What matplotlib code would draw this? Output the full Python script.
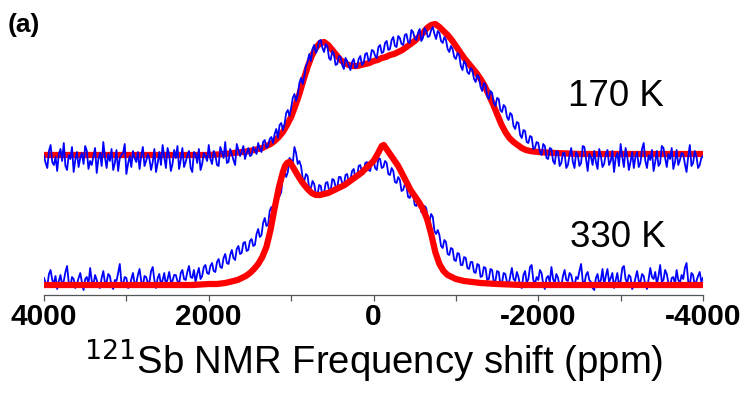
import numpy as np
import matplotlib
matplotlib.use('Agg')
import matplotlib.pyplot as plt
from matplotlib.ticker import MultipleLocator

# 170 K 实测谱（蓝），4000 -> -4000 ppm，间隔 20 ppm
exp_170 = [
    136, 129, 124, 141, 147, 130, 127, 135, 121, 138, 143, 131, 149, 126, 122, 137, 133, 145, 120, 132,
    140, 125, 134, 139, 128, 146, 141, 123, 131, 127, 136, 144, 119, 133, 139, 126, 150, 135, 124, 138,
    131, 143, 122, 129, 142, 121, 134, 137, 139, 148, 118, 128, 136, 125, 141, 134, 130, 140, 123, 136,
    145, 126, 131, 138, 133, 122, 130, 143, 120, 129, 140, 127, 147, 135, 124, 144, 137, 121, 128, 142,
    134, 146, 123, 132, 144, 125, 130, 137, 141, 124, 120, 140, 138, 129, 143, 122, 128, 139, 136, 131,
    147, 133, 128, 141, 137, 127, 126, 145, 140, 134, 150, 129, 130, 143, 138, 132, 127, 148, 142, 136,
    140, 146, 133, 139, 144, 136, 137, 145, 142, 138, 149, 143, 140, 150, 152, 144, 146, 153, 155, 149,
    158, 163, 154, 167, 169, 162, 168, 179, 182, 176, 184, 194, 198, 191, 197, 209, 214, 208, 216, 226,
    230, 238, 231, 243, 247, 239, 243, 251, 252, 244, 240, 248, 246, 234, 232, 241, 238, 227, 228, 236,
    235, 227, 223, 234, 231, 226, 222, 230, 233, 224, 225, 233, 236, 227, 229, 238, 239, 231, 233, 242,
    241, 236, 234, 245, 247, 239, 240, 249, 251, 242, 243, 252, 255, 246, 245, 256, 254, 248, 247, 257,
    258, 250, 249, 262, 260, 254, 252, 259, 263, 251, 254, 264, 261, 255, 256, 262, 265, 258, 253, 261,
    259, 251, 249, 255, 252, 243, 240, 246, 243, 235, 233, 239, 237, 226, 222, 231, 228, 220, 218, 224,
    222, 213, 210, 217, 215, 205, 201, 209, 207, 196, 193, 201, 199, 189, 186, 194, 193, 182, 180, 187,
    185, 175, 172, 179, 177, 166, 163, 170, 169, 157, 154, 162, 161, 150, 149, 156, 155, 143, 144, 150,
    149, 140, 137, 148, 146, 134, 133, 144, 143, 131, 128, 141, 140, 126, 129, 139, 139, 124, 127, 137,
    144, 130, 124, 140, 137, 126, 129, 146, 145, 133, 121, 138, 135, 127, 141, 130, 123, 143, 136, 125,
    128, 138, 142, 127, 131, 141, 120, 134, 139, 126, 148, 135, 125, 144, 136, 122, 130, 140, 124, 135,
    140, 125, 129, 143, 149, 131, 124, 137, 132, 142, 121, 130, 141, 126, 129, 146, 144, 134, 125, 138,
    133, 144, 123, 130, 142, 127, 132, 139, 138, 128, 120, 135, 147, 126, 129, 141, 136, 124, 127, 134,
    136]

# 330 K 实测谱（蓝）
exp_330 = [
    14, 9, 6, 18, 22, 12, 9, 16, 3, 11, 17, 7, 11, 20, 26, 10, 5, 15, 13, 4,
    8, 14, 19, 10, 2, 13, 15, 8, 24, 11, 7, 17, 12, 5, 4, 14, 21, 9, 10, 18,
    16, 6, 3, 12, 11, 19, 28, 9, 8, 15, 14, 4, 5, 13, 19, 8, 9, 17, 23, 11,
    6, 16, 15, 9, 10, 21, 25, 12, 4, 14, 18, 7, 12, 19, 7, 13, 20, 10, 11, 17,
    17, 11, 8, 19, 22, 13, 12, 20, 26, 15, 14, 22, 10, 18, 24, 13, 16, 25, 27, 19,
    18, 26, 29, 21, 20, 30, 33, 25, 24, 34, 38, 29, 28, 37, 42, 34, 32, 43, 46, 38,
    39, 49, 50, 41, 42, 51, 53, 46, 47, 58, 63, 55, 57, 69, 74, 66, 67, 81, 85, 79,
    82, 98, 103, 96, 100, 116, 121, 115, 120, 134, 132, 129, 145, 139, 128, 131, 126, 114, 111, 118,
    116, 103, 104, 111, 108, 98, 97, 107, 106, 96, 99, 109, 110, 102, 101, 113, 112, 105, 104, 115,
    115, 109, 106, 117, 118, 110, 112, 121, 123, 114, 115, 126, 127, 119, 118, 129, 130, 122, 121, 131,
    132, 124, 122, 134, 133, 124, 125, 131, 129, 118, 117, 124, 121, 110, 109, 115, 112, 101, 102, 108,
    106, 95, 94, 101, 99, 87, 86, 93, 91, 80, 79, 86, 84, 72, 71, 78, 75, 61, 58, 62,
    57, 46, 44, 52, 50, 38, 37, 44, 43, 32, 31, 39, 38, 27, 27, 35, 34, 24, 23, 30,
    30, 20, 19, 28, 27, 15, 16, 25, 24, 12, 13, 23, 22, 10, 11, 21, 20, 8, 9, 19,
    18, 10, 7, 16, 24, 13, 11, 20, 15, 6, 4, 17, 21, 9, 13, 25, 27, 12, 8, 15,
    12, 22, 19, 8, 3, 14, 16, 10, 25, 13, 9, 18, 14, 5, 6, 16, 22, 12, 11, 19,
    17, 9, 5, 15, 13, 21, 28, 11, 8, 17, 20, 12, 10, 4, 2, 14, 18, 8, 12, 23,
    7, 16, 23, 10, 14, 19, 4, 12, 19, 7, 11, 24, 26, 13, 9, 17, 15, 3, 6, 14,
    21, 11, 10, 18, 16, 7, 3, 13, 24, 15, 13, 20, 8, 16, 27, 10, 12, 22, 18, 9,
    5, 14, 15, 8, 22, 12, 9, 17, 13, 24, 29, 11, 7, 19, 17, 6, 11, 16, 20, 10,
    14]

# 拟合曲线（红）
fit_ppm_170 = [4000, 2500, 2000, 1800, 1700, 1600, 1500, 1400, 1350, 1300, 1250, 1200,
               1150, 1100, 1050, 1000, 950, 900, 850, 800, 750, 700, 650, 600, 550, 500,
               450, 400, 350, 300, 250, 200, 150, 100, 50, 0, -50, -100, -150, -200,
               -250, -300, -350, -400, -450, -500, -550, -600, -650, -700, -750, -800,
               -850, -900, -950, -1000, -1050, -1100, -1150, -1200, -1250, -1300, -1350,
               -1400, -1450, -1500, -1550, -1600, -1650, -1700, -1750, -1800, -1850,
               -1900, -2000, -2200, -2500, -4000]
fit_170 = [137, 137, 137, 138, 139, 140, 141, 143, 144, 146, 148, 151,
           155, 160, 167, 175, 186, 198, 212, 225, 236, 244, 249, 250, 247, 242,
           237, 232, 229, 227, 226, 226, 227, 228, 229, 231, 232, 234, 235, 237,
           238, 240, 242, 245, 248, 251, 255, 259, 264, 267, 268, 265,
           261, 257, 252, 246, 240, 234, 229, 224, 219, 213, 206,
           197, 188, 178, 168, 160, 154, 150, 147, 144, 142,
           141, 140, 139, 138, 138]

fit_ppm_330 = [4000, 2500, 2200, 2000, 1900, 1800, 1700, 1650, 1600, 1550, 1500, 1450,
               1400, 1350, 1300, 1250, 1200, 1150, 1100, 1075, 1050, 1025, 1000, 950,
               900, 850, 800, 750, 700, 650, 600, 550, 500, 450, 400, 350, 300, 250,
               200, 150, 100, 50, 0, -50, -100, -125, -150, -200, -250, -300, -350,
               -400, -450, -500, -550, -600, -650, -700, -750, -800, -850, -900, -950,
               -1000, -1100, -1200, -1300, -1500, -1800, -4000]
fit_330 = [7, 7, 7, 8, 8, 9, 11, 12, 14, 16, 19, 23,
           28, 35, 45, 62, 84, 104, 120, 126, 129, 130, 128, 121,
           114, 108, 103, 99, 97, 97, 98, 99, 101, 103, 105, 107, 110, 113,
           116, 119, 123, 127, 131, 138, 146, 147, 144, 138, 132, 126, 118,
           110, 102, 96, 90, 83, 73, 58, 40, 28, 21, 17, 15,
           13, 11, 10, 9, 8, 7, 7]

labels = ['170 K', '330 K']

plt.rcParams['font.family'] = ['Liberation Sans', 'DejaVu Sans']
plt.rcParams['axes.unicode_minus'] = False

ppm_exp = np.linspace(4000, -4000, len(exp_170))

fig = plt.figure(figsize=(7.45, 4.02), dpi=100)
ax = fig.add_axes([44 / 745, 106 / 402, 659 / 745, 281 / 402])

ax.plot(fit_ppm_170, fit_170, color='red', lw=4.5, solid_joinstyle='round',
        solid_capstyle='butt', zorder=2)
ax.plot(ppm_exp, exp_170, color='blue', lw=1.3, zorder=3)
ax.plot(ppm_exp, exp_330, color='blue', lw=1.3, zorder=3)
ax.plot(fit_ppm_330, fit_330, color='red', lw=4.5, solid_joinstyle='round',
        solid_capstyle='butt', zorder=4)

ax.set_xlim(4000, -4000)
ax.set_ylim(-3, 278)

for s in ['top', 'right', 'left']:
    ax.spines[s].set_visible(False)
ax.spines['bottom'].set_color('#555555')
ax.spines['bottom'].set_linewidth(0.9)
ax.set_yticks([])

ax.xaxis.set_major_locator(MultipleLocator(2000))
ax.xaxis.set_minor_locator(MultipleLocator(1000))
ax.tick_params(axis='x', which='both', direction='out', length=4.3, width=0.9,
               color='#555555', pad=0.5)
for lab in ax.get_xticklabels():
    lab.set_fontweight('bold')
    lab.set_fontsize(21.5)

ax.text(-2361, 187, labels[0], fontsize=26.5, va='baseline', ha='left')
ax.text(-2385, 46, labels[1], fontsize=26.5, va='baseline', ha='left')

fig.text(374 / 745, 1 - 375 / 402, r'$^{121}$Sb NMR Frequency shift (ppm)',
         fontsize=27.5, ha='center', va='baseline')
fig.text(8 / 745, 1 - 32 / 402, '(a)', fontsize=19, fontweight='bold',
         ha='left', va='baseline')

fig.savefig('out.png', dpi=100)
